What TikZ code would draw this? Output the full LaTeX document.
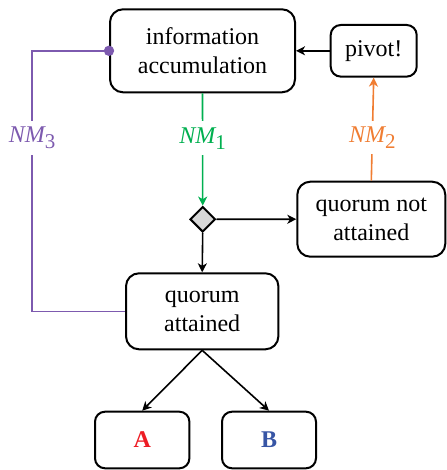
\documentclass[tikz,border=0pt]{standalone}
\usepackage{fontspec}
\setmainfont{Liberation Serif}
\usetikzlibrary{shapes.geometric,arrows.meta}
\definecolor{nmgreen}{RGB}{0,176,80}
\definecolor{nmorange}{RGB}{240,125,50}
\definecolor{nmpurple}{RGB}{125,90,175}
\definecolor{ared}{RGB}{237,28,36}
\definecolor{bblue}{RGB}{55,85,165}
\definecolor{dgray}{RGB}{215,215,215}
\tikzset{
  box/.style={draw, line width=1pt, rounded corners=6.5pt, align=center, inner sep=0pt,
    font=\fontsize{12}{14.5}\selectfont},
  conn/.style={line width=0.8pt, -{Stealth[length=4.5pt,width=4.5pt,inset=1.3pt]}},
  lbl/.style={fill=white, inner xsep=1pt, inner ysep=3pt, font=\fontsize{12}{14.5}\selectfont},
}
\newcommand{\nmlab}[1]{{\itshape NM}\raisebox{-0.55ex}{\fontsize{10.5}{10.5}\selectfont #1}}
\begin{document}
\begin{tikzpicture}[x=0.5pt,y=-0.5pt]
\useasboundingbox (0,0) rectangle (446,470);
\node[box, minimum width=92.5pt, minimum height=41.5pt] (info) at (202.5,50.8) {information\\accumulation};
\node[box, minimum width=43pt, minimum height=25.8pt, rounded corners=5pt] (pivot) at (373.7,50.8) {pivot!};
\node[draw, line width=1pt, diamond, aspect=1, fill=dgray, minimum size=12.7pt, inner sep=0pt] (dia) at (202.7,219.3) {};
\node[box, minimum width=74pt, minimum height=37.5pt] (qna) at (371.3,219.2) {quorum not\\attained};
\node[box, minimum width=76.2pt, minimum height=38pt] (qa) at (202.2,311.3) {quorum\\attained};
\node[box, minimum width=47.2pt, minimum height=28.3pt, rounded corners=5pt, font=\fontsize{12}{14.5}\selectfont\bfseries, text=ared] (A) at (142.2,440) {A};
\node[box, minimum width=47pt, minimum height=28.3pt, rounded corners=5pt, font=\fontsize{12}{14.5}\selectfont\bfseries, text=bblue] (B) at (269,440) {B};
\coordinate (p3a) at (32,50.8);
\coordinate (p3b) at (32,311.3);
\draw[conn] (pivot) -- (info);
\draw[conn, nmgreen] (info.south) -- node[lbl, pos=0.4, text=nmgreen] {\nmlab{1}} (dia.north);
\draw[conn, nmorange] (qna.north) -- node[lbl, pos=0.42, text=nmorange] {\nmlab{2}} (pivot.south);
\draw[conn] (dia.east) -- (qna.west);
\draw[conn] (dia.south) -- (qa.north);
\draw[line width=0.8pt, nmpurple] (qa.west) -- (p3b) -- node[lbl, pos=0.665, text=nmpurple] {\nmlab{3}} (p3a) -- (info.west);
\fill[nmpurple] (info.west) circle (2.6pt);
\draw[conn] (qa.south) -- (A.north);
\draw[conn] (qa.south) -- (B.north);
\end{tikzpicture}
\end{document}
